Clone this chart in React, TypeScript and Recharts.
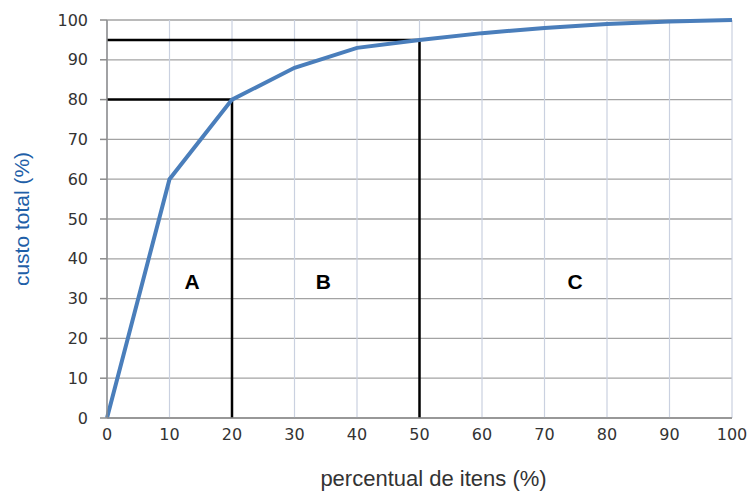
import React from 'react';
import { LineChart, Line, XAxis, YAxis, CartesianGrid, ReferenceLine, ReferenceDot } from 'recharts';

const itemPct = [0, 10, 20, 30, 40, 50, 60, 70, 80, 90, 100];
const costPct = [0, 60, 80, 88, 93, 95, 96.7, 98, 99, 99.6, 100];
const xTicks = [0, 10, 20, 30, 40, 50, 60, 70, 80, 90, 100];
const yTicks = [0, 10, 20, 30, 40, 50, 60, 70, 80, 90, 100];
const classNames = ['A', 'B', 'C'];
const classX = [13.6, 34.6, 74.9];
const classY = [34.4, 34.4, 34.4];
const cutX = [20, 50];
const cutY = [80, 95];

const data = itemPct.map((x, i) => ({ x, y: costPct[i] }));

export default function App() {
  return (
    <div style={{ position: 'absolute', left: 0, top: 0, width: 750, height: 492, background: '#fff' }}>
      <LineChart width={750} height={492} data={data} margin={{ top: 20, right: 18, bottom: 0, left: 0 }}>
        <CartesianGrid horizontal={true} vertical={false} stroke="#a3a3a3" strokeWidth={1.3} />
        <CartesianGrid horizontal={false} vertical={true} stroke="#cad1e0" strokeWidth={1.2} />
        <XAxis
          dataKey="x"
          type="number"
          domain={[0, 100]}
          ticks={xTicks}
          interval={0}
          height={74}
          tickLine={false}
          tickSize={8}
          tickMargin={3}
          stroke="#8c8c8c"
          strokeWidth={1.5}
          tick={{ fill: '#333', fontSize: 16, fontFamily: 'DejaVu Sans' }}
          label={{ value: 'percentual de itens (%)', position: 'insideBottom', offset: 6, dx: 14, fill: '#333', fontSize: 22, fontFamily: 'Liberation Sans' }}
        />
        <YAxis
          type="number"
          domain={[0, 100]}
          ticks={yTicks}
          interval={0}
          width={107}
          tickSize={7}
          tickMargin={12}
          stroke="#8c8c8c"
          strokeWidth={1.5}
          tick={{ fill: '#333', fontSize: 16, fontFamily: 'DejaVu Sans' }}
          label={{ value: 'custo total (%)', angle: -90, position: 'insideLeft', offset: 22, fill: '#1f5fa8', fontSize: 21, fontFamily: 'Liberation Sans', style: { textAnchor: 'middle' } }}
        />
        {cutX.map((cx, i) => (
          <ReferenceLine key={'h' + i} segment={[{ x: 0, y: cutY[i] }, { x: cx, y: cutY[i] }]} stroke="#000" strokeWidth={2.5} ifOverflow="visible" />
        ))}
        {cutX.map((cx, i) => (
          <ReferenceLine key={'v' + i} segment={[{ x: cx, y: 0 }, { x: cx, y: cutY[i] }]} stroke="#000" strokeWidth={2.5} ifOverflow="visible" />
        ))}
        <Line type="linear" dataKey="y" stroke="#4a7ebb" strokeWidth={4} dot={false} isAnimationActive={false} />
        {classNames.map((n, i) => (
          <ReferenceDot
            key={n}
            x={classX[i]}
            y={classY[i]}
            r={0}
            fill="none"
            stroke="none"
            label={{ value: n, position: 'center', fill: '#000', fontSize: 21, fontWeight: 'bold', fontFamily: 'Liberation Sans' }}
          />
        ))}
      </LineChart>
    </div>
  );
}
